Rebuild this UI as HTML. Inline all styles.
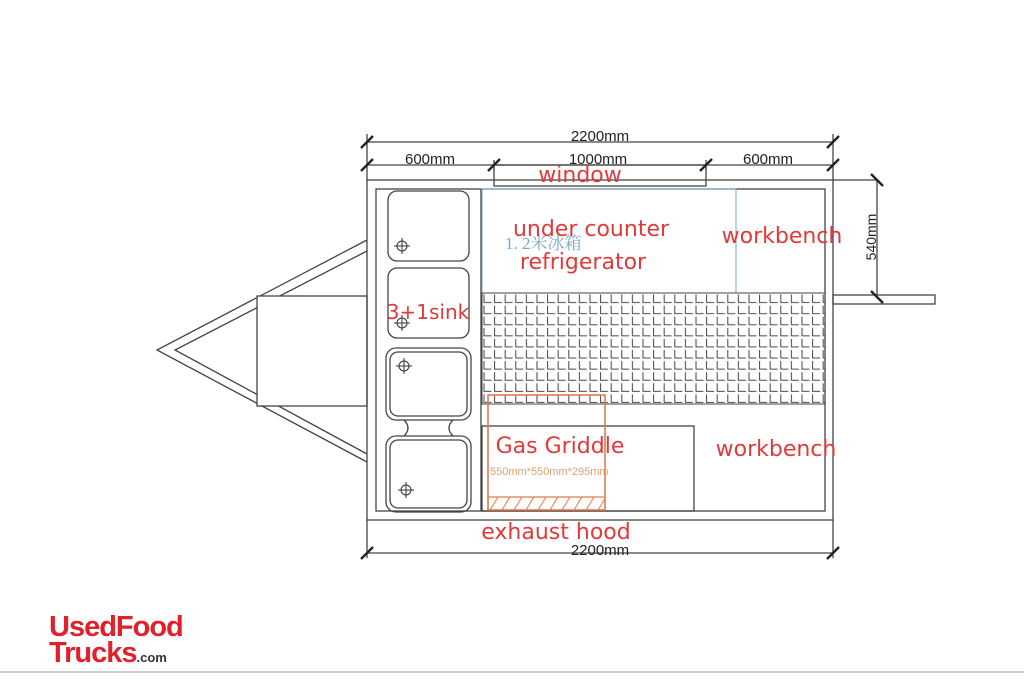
<!DOCTYPE html>
<html><head><meta charset="utf-8"><style>
html,body{margin:0;padding:0;background:#fff;width:1024px;height:688px;overflow:hidden}
svg{display:block}
</style></head><body>
<svg width="1024" height="688" viewBox="0 0 1024 688" xmlns="http://www.w3.org/2000/svg" font-family="Liberation Sans, sans-serif">
<defs>
<pattern id="g" x="482" y="293" width="10.6" height="11.1" patternUnits="userSpaceOnUse">
<path d="M2 1.5 V9.5 H9.5" fill="none" stroke="#444" stroke-width="1"/>
</pattern>
<pattern id="h" x="488" y="497" width="12" height="13" patternUnits="userSpaceOnUse">
<path d="M2 13 L10 0" stroke="#e07a4a" stroke-width="1"/>
</pattern>
</defs>
<g fill="none" stroke="#444" stroke-width="1.3">
<polyline points="367,240 157,350 367,462"/>
<polyline points="367,251 175,350 367,454"/>
<rect x="257" y="296" width="110" height="110" fill="#fff"/>
<rect x="367" y="180" width="466" height="340"/>
<rect x="376" y="189" width="449" height="322"/>
<line x1="481" y1="189" x2="481" y2="511"/>
<rect x="494" y="165" width="212" height="21"/>
<line x1="367" y1="142" x2="833" y2="142"/>
<line x1="367" y1="165" x2="833" y2="165"/>
<line x1="367" y1="134" x2="367" y2="180"/>
<line x1="833" y1="134" x2="833" y2="180"/>
<line x1="494" y1="160" x2="494" y2="170"/>
<line x1="706" y1="160" x2="706" y2="170"/>
<line x1="367" y1="520" x2="367" y2="558"/>
<line x1="833" y1="520" x2="833" y2="558"/>
<line x1="367" y1="553" x2="833" y2="553"/>
<line x1="833" y1="180" x2="877" y2="180"/>
<line x1="877" y1="180" x2="877" y2="298"/>
<rect x="833" y="295" width="102" height="9"/>
<rect x="388" y="191" width="81" height="70" rx="9"/>
<rect x="388" y="268" width="81" height="70" rx="9"/>
<rect x="386" y="348" width="85" height="72" rx="10"/>
<rect x="390" y="352" width="77" height="64" rx="8"/>
<rect x="386" y="436" width="85" height="76" rx="10"/>
<rect x="390" y="440" width="77" height="68" rx="8"/>
<path d="M404 420 Q412 428 404 436 M453 420 Q445 428 453 436"/>
<rect x="482" y="426" width="212" height="85"/>
</g>
<g stroke="#222" stroke-width="2.4">
<line x1="361" y1="148" x2="373" y2="136"/><line x1="827" y1="148" x2="839" y2="136"/>
<line x1="361" y1="171" x2="373" y2="159"/><line x1="488" y1="171" x2="500" y2="159"/>
<line x1="700" y1="171" x2="712" y2="159"/><line x1="827" y1="171" x2="839" y2="159"/>
<line x1="361" y1="559" x2="373" y2="547"/><line x1="827" y1="559" x2="839" y2="547"/>
<line x1="871" y1="174" x2="883" y2="186"/><line x1="871" y1="291" x2="883" y2="303"/>
</g>
<g stroke="#333" stroke-width="1" fill="none">
<circle cx="402" cy="246" r="5"/><path d="M394 246h16M402 238v16"/>
<circle cx="402" cy="323" r="5"/><path d="M394 323h16M402 315v16"/>
<circle cx="404" cy="366" r="5"/><path d="M396 366h16M404 358v16"/>
<circle cx="406" cy="490" r="5"/><path d="M398 490h16M406 482v16"/>
</g>
<rect x="482" y="189" width="254" height="104" fill="none" stroke="#7fa6c8" stroke-width="1"/>
<rect x="482" y="293" width="343" height="111" fill="url(#g)" stroke="#444"/>
<rect x="488" y="497" width="117" height="13" fill="url(#h)"/>
<rect x="488" y="395" width="117" height="115" fill="none" stroke="#e07a4a" stroke-width="1.6"/>
<line x1="488" y1="497" x2="605" y2="497" stroke="#e07a4a" stroke-width="1.2"/>
<g fill="#222" font-size="15">
<text x="600" y="141" text-anchor="middle">2200mm</text>
<text x="430" y="164" text-anchor="middle">600mm</text>
<text x="598" y="164" text-anchor="middle">1000mm</text>
<text x="768" y="164" text-anchor="middle">600mm</text>
<text x="600" y="555" text-anchor="middle">2200mm</text>
<text transform="translate(876,237) rotate(-90)" text-anchor="middle" font-size="14">540mm</text>
</g>
<text x="505" y="249" font-size="17" fill="#7fa6c8" font-family="Liberation Serif, Noto Serif CJK SC, serif">1. 2米冰箱</text>
<text x="490" y="475" font-size="11" fill="#e0a070">550mm*550mm*295mm</text>
<g fill="#e03a3a" font-size="22" font-family="DejaVu Sans, sans-serif">
<text x="580" y="182" text-anchor="middle">window</text>
<text x="591" y="236" text-anchor="middle">under counter</text>
<text x="583" y="269" text-anchor="middle">refrigerator</text>
<text x="782" y="243" text-anchor="middle">workbench</text>
<text x="776" y="456" text-anchor="middle">workbench</text>
<text x="560" y="453" text-anchor="middle">Gas Griddle</text>
<text x="556" y="539" text-anchor="middle">exhaust hood</text>
<text x="428" y="319" text-anchor="middle" font-size="20">3+1sink</text>
</g>
<g fill="#e0202a" font-weight="bold" font-size="29" letter-spacing="-1">
<text x="49" y="636">UsedFood</text>
<text x="49" y="662">Trucks<tspan fill="#333" font-size="13" letter-spacing="0">.com</tspan></text>
</g>
<line x1="0" y1="672" x2="1024" y2="672" stroke="#ccc" stroke-width="2"/>
</svg>
</body></html>
